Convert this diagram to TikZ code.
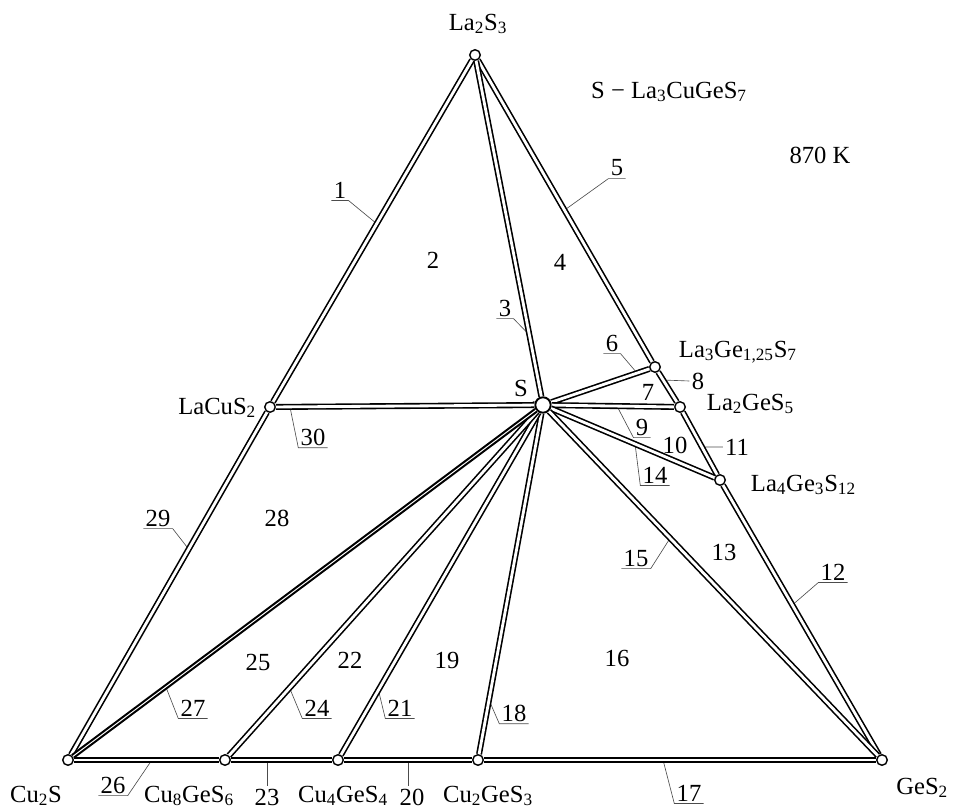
\documentclass[tikz,border=0pt]{standalone}
\usepackage{fontspec}
\setmainfont{Liberation Serif}
\usetikzlibrary{calc, positioning}

\newcommand{\sbs}[1]{\textsubscript{#1}}

\begin{document}
\begin{tikzpicture}[x=0.025cm, y=-0.025cm,
    every node/.style={font=\fontsize{17.5}{20}\selectfont},
    tie/.style={draw, double=white, double distance=2pt, line width=1.15pt},
    phase/.style={circle, draw, fill=white, line width=1pt, inner sep=0pt, minimum size=7.5pt},
    num/.style={inner sep=1.5pt},
    leader/.style={draw=black!70, line width=0.45pt}
]
    \useasboundingbox (0,0) rectangle (954,809);

    % Phase points
    \node (A) [phase] at (475,55) {};
    \node (B) [phase] at (68,760) {};
    \node (C) [phase] at (882,760) {};
    \node (S) [phase, minimum size=11pt, line width=1.4pt] at (543,405) {};
    \node (L) [phase] at (270,407) {};
    \node (La3Ge) [phase] at (655,367) {};
    \node (La2Ge) [phase] at (680,407) {};
    \node (La4Ge) [phase] at (720,480) {};
    \node (Cu8) [phase] at (225,760) {};
    \node (Cu4) [phase] at (338,760) {};
    \node (Cu2Ge) [phase] at (478,760) {};

    % Phase labels
    \node (tLa2S3) at (478,24) {La\sbs{2}S\sbs{3}};
    \node (tCu2S) at (36,796) {Cu\sbs{2}S};
    \node (tCu8) at (189,796) {Cu\sbs{8}GeS\sbs{6}};
    \node (tCu4) at (343,796) {Cu\sbs{4}GeS\sbs{4}};
    \node (tCu2Ge) at (488,796) {Cu\sbs{2}GeS\sbs{3}};
    \node (tGeS2) [anchor=east] at (953,788) {GeS\sbs{2}};
    \node (tL) [anchor=east] at (261,408) {LaCuS\sbs{2}};
    \node (tLa3Ge) [anchor=west] at (674,352) {La\sbs{3}Ge\sbs{1,25}S\sbs{7}};
    \node (tLa2Ge) [anchor=west] at (702,404) {La\sbs{2}GeS\sbs{5}};
    \node (tLa4Ge) [anchor=west] at (746,485) {La\sbs{4}Ge\sbs{3}S\sbs{12}};
    \node (tS) at (521,388) {S};
    \node (title) at (669,92) {S − La\sbs{3}CuGeS\sbs{7}};
    \node (temp) at (820,155) {870 K};

    % Field numbers
    \node (n2) [num] at (433,260) {2};
    \node (n4) [num] at (560,262) {4};
    \node (n7) [num] at (648,392) {7};
    \node (n10) [num] at (675,445) {10};
    \node (n13) [num] at (724,552) {13};
    \node (n16) [num] at (617,658) {16};
    \node (n19) [num] at (447,660) {19};
    \node (n22) [num] at (350,660) {22};
    \node (n25) [num] at (258,662) {25};
    \node (n28) [num] at (277,518) {28};

    % Numbers with leaders
    \node (n1) [num] at (340,190) {1};
    \node (n3) [num] at (505,308) {3};
    \node (n5) [num] at (617,168) {5};
    \node (n6) [num] at (612,343) {6};
    \node (n8) [num] at (698,381) {8};
    \node (n9) [num] at (642,427) {9};
    \node (n11) [num] at (737,447) {11};
    \node (n12) [num] at (833,572) {12};
    \node (n14) [num] at (655,475) {14};
    \node (n15) [num] at (636,558) {15};
    \node (n17) [num] at (689,793) {17};
    \node (n18) [num] at (514,713) {18};
    \node (n20) [num] at (412,797) {20};
    \node (n21) [num] at (400,708) {21};
    \node (n23) [num] at (267,797) {23};
    \node (n24) [num] at (317,708) {24};
    \node (n26) [num] at (113,785) {26};
    \node (n27) [num] at (193,708) {27};
    \node (n29) [num] at (158,518) {29};
    \node (n30) [num] at (313,437) {30};

    \coordinate (p1) at ($(A)!0.24!(B)$);
    \coordinate (p3) at ($(A)!0.8!(S)$);
    \coordinate (p5) at ($(A)!0.22!(C)$);
    \coordinate (p6) at ($(S)!0.84!(La3Ge)$);
    \coordinate (p8) at ($(A)!0.461!(C)$);
    \coordinate (p9) at ($(S)!0.54!(La2Ge)$);
    \coordinate (p11) at ($(A)!0.556!(C)$);
    \coordinate (p12) at ($(A)!0.78!(C)$);
    \coordinate (p14) at ($(S)!0.52!(La4Ge)$);
    \coordinate (p15) at ($(S)!0.375!(C)$);
    \coordinate (p17) at ($(B)!0.731!(C)$);
    \coordinate (p18) at ($(S)!0.831!(Cu2Ge)$);
    \coordinate (p20) at ($(B)!0.418!(C)$);
    \coordinate (p21) at ($(S)!0.803!(Cu4)$);
    \coordinate (p23) at ($(B)!0.2445!(C)$);
    \coordinate (p24) at ($(S)!0.797!(Cu8)$);
    \coordinate (p26) at ($(B)!0.103!(C)$);
    \coordinate (p27) at ($(S)!0.794!(B)$);
    \coordinate (p29) at ($(A)!0.702!(B)$);
    \coordinate (p30) at ($(L)!0.073!(S)$);

    \draw [leader] (p1) -- (n1.south east) -- (n1.south west);
    \draw [leader] (p3) -- (n3.south east) -- (n3.south west);
    \draw [leader] (p5) -- (n5.south west) -- (n5.south east);
    \draw [leader] (p6) -- (n6.south east) -- (n6.south west);
    \draw [leader] (p8) -- (n8.west);
    \draw [leader] (p9) -- (n9.south west) -- (n9.south east);
    \draw [leader] (p11) -- (n11.west);
    \draw [leader] (p12) -- (n12.south west) -- (n12.south east);
    \draw [leader] (p14) -- (n14.south west) -- (n14.south east);
    \draw [leader] (p15) -- (n15.south east) -- (n15.south west);
    \draw [leader] (p17) -- (n17.south west) -- (n17.south east);
    \draw [leader] (p18) -- (n18.south west) -- (n18.south east);
    \draw [leader] (p20) -- (p20 |- n20.north);
    \draw [leader] (p21) -- (n21.south west) -- (n21.south east);
    \draw [leader] (p23) -- (p23 |- n23.north);
    \draw [leader] (p24) -- (n24.south west) -- (n24.south east);
    \draw [leader] (p26) -- (n26.south east) -- (n26.south west);
    \draw [leader] (p27) -- (n27.south west) -- (n27.south east);
    \draw [leader] (p29) -- (n29.south east) -- (n29.south west);
    \draw [leader] (p30) -- (n30.south west) -- (n30.south east);
    \draw [leader] (tS.south east) -- (S);

    % Triangle sides
    \draw [tie] (A) -- (L) -- (B);
    \draw [tie] (A) -- (La3Ge) -- (La2Ge) -- (La4Ge) -- (C);
    \draw [tie] (B) -- (Cu8) -- (Cu4) -- (Cu2Ge) -- (C);

    % Tie lines from S
    \draw [tie] (S) -- (A);
    \draw [tie] (S) -- (L);
    \draw [tie] (S) -- (La3Ge);
    \draw [tie] (S) -- (La2Ge);
    \draw [tie] (S) -- (La4Ge);
    \draw [tie] (S) -- (C);
    \draw [tie] (S) -- (Cu2Ge);
    \draw [tie] (S) -- (Cu4);
    \draw [tie] (S) -- (Cu8);
    \draw [tie, line width=1.5pt, double distance=0.7pt] (S) -- (B);

\end{tikzpicture}
\end{document}
